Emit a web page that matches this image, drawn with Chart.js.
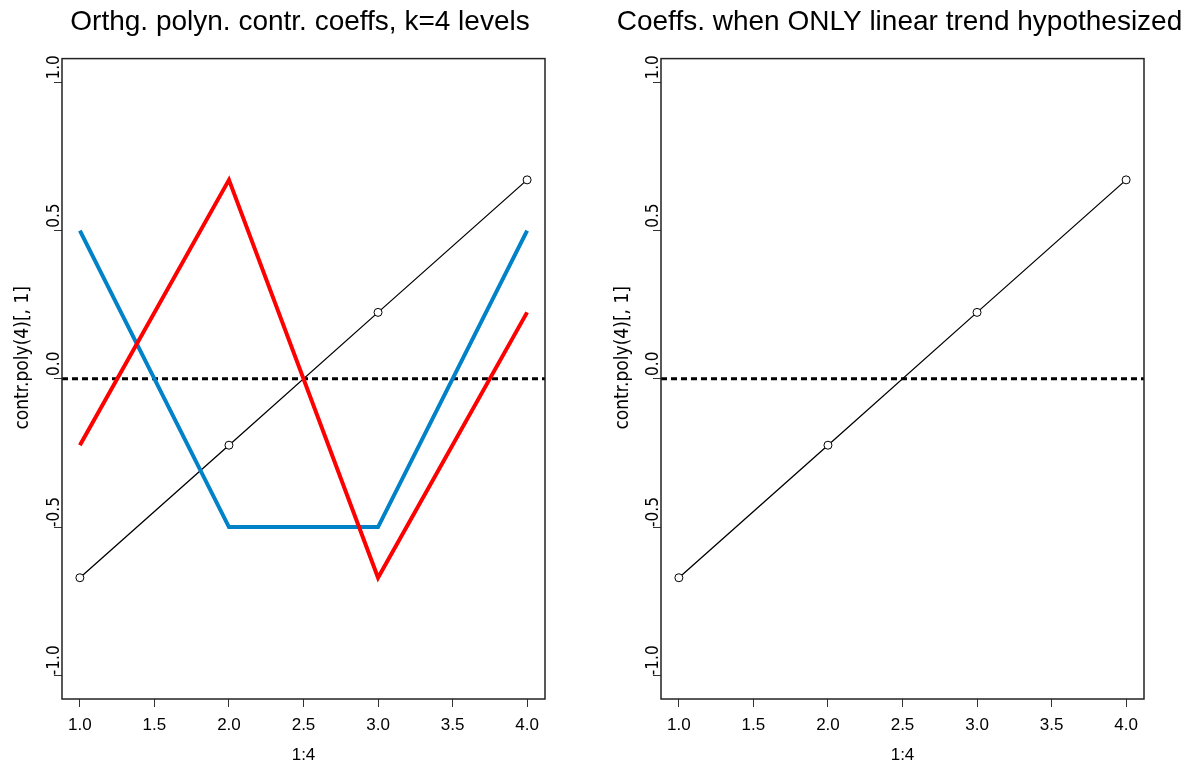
<!DOCTYPE html>
<html>
<head>
<meta charset="utf-8">
<script src="https://cdn.jsdelivr.net/npm/chart.js@4/dist/chart.umd.min.js"></script>
<style>
  html, body { margin: 0; padding: 0; background: #fff; }
  .row { display: flex; width: 1199px; height: 766px; }
</style>
</head>
<body>
<div class="row">
  <canvas id="left" width="600" height="766"></canvas>
  <canvas id="right" width="599" height="766"></canvas>
</div>
<script>
// contr.poly(4) columns
const levels = [1, 2, 3, 4];
const linear = [-0.671, -0.224, 0.224, 0.671];
const quadratic = [0.5, -0.5, -0.5, 0.5];
const cubic = [-0.224, 0.671, -0.671, 0.224];

const xTicks = [1.0, 1.5, 2.0, 2.5, 3.0, 3.5, 4.0];
const yTicks = [-1.0, -0.5, 0.0, 0.5, 1.0];
const xLimits = [0.88, 4.12];
const yLimits = [-1.08, 1.08];
const refLine = 0;

const SANS = "'Liberation Sans', Arial, sans-serif";
const NARROW = "'Liberation Sans Narrow', 'DejaVu Sans Condensed', 'Liberation Sans', sans-serif";

const pts = (ys) => levels.map((x, i) => ({ x: x, y: ys[i] }));

// box around the plot region, like R's box()
const framePlugin = {
  id: 'frame',
  afterDatasetsDraw(chart) {
    const { ctx, chartArea: a } = chart;
    ctx.save();
    ctx.strokeStyle = '#222';
    ctx.lineWidth = 1.5;
    ctx.strokeRect(a.left, a.top, a.right - a.left, a.bottom - a.top);
    ctx.restore();
  }
};

// rotated y label (sits a bit above the plot centre in the original)
const yLabelPlugin = {
  id: 'yLabel',
  afterDraw(chart, args, opts) {
    const { ctx, chartArea: a } = chart;
    ctx.save();
    ctx.translate(opts.x, (a.top + a.bottom) / 2 + opts.shift);
    ctx.rotate(-Math.PI / 2);
    ctx.font = opts.size + 'px ' + NARROW;
    ctx.fillStyle = '#000';
    ctx.textAlign = 'center';
    ctx.textBaseline = 'middle';
    ctx.fillText(opts.text, 0, 0);
    ctx.restore();
  }
};

function makeChart(id, title, datasets, yWidth) {
  return new Chart(document.getElementById(id), {
    type: 'line',
    data: { datasets: datasets },
    options: {
      responsive: false,
      animation: false,
      devicePixelRatio: 1,
      layout: { padding: 0 },
      scales: {
        x: {
          type: 'linear',
          min: xLimits[0],
          max: xLimits[1],
          afterBuildTicks: (s) => { s.ticks = xTicks.map(v => ({ value: v })); },
          afterFit: (s) => { s.height = 67; },
          grid: { drawOnChartArea: false, tickLength: 8, color: '#333', lineWidth: 1 },
          border: { display: false },
          ticks: {
            autoSkip: false,
            maxRotation: 0,
            padding: 8,
            color: '#000',
            font: { family: SANS, size: 17 },
            callback: (v) => Number(v).toFixed(1)
          },
          title: {
            display: true,
            text: '1:4',
            color: '#000',
            font: { family: SANS, size: 17 },
            padding: { top: 0, bottom: 0 }
          }
        },
        y: {
          type: 'linear',
          min: yLimits[0],
          max: yLimits[1],
          afterBuildTicks: (s) => { s.ticks = yTicks.map(v => ({ value: v })); },
          afterFit: (s) => { s.width = yWidth; },
          grid: { drawOnChartArea: false, tickLength: 8, color: '#333', lineWidth: 1 },
          border: { display: false },
          ticks: {
            autoSkip: false,
            minRotation: 90,
            maxRotation: 90,
            crossAlign: 'center',
            padding: -15,
            labelOffset: -15,
            color: '#000',
            font: { family: NARROW, size: 17 },
            callback: (v) => Number(v).toFixed(1)
          }
        },
        // empty right-hand margin
        y2: {
          type: 'linear',
          position: 'right',
          afterFit: (s) => { s.width = 55; },
          grid: { display: false },
          border: { display: false },
          ticks: { display: false }
        }
      },
      plugins: {
        legend: { display: false },
        tooltip: { enabled: false },
        title: {
          display: true,
          text: title,
          color: '#000',
          font: { family: SANS, size: 28, weight: 'normal' },
          padding: { top: 5, bottom: 20 }
        },
        yLabel: { text: 'contr.poly(4)[, 1]', x: 23, shift: -21, size: 19 }
      }
    },
    plugins: [framePlugin, yLabelPlugin]
  });
}

const zeroLine = () => ({
  data: [{ x: xLimits[0], y: refLine }, { x: xLimits[1], y: refLine }],
  borderColor: '#000',
  borderWidth: 3,
  borderDash: [6, 4],
  pointRadius: 0,
  tension: 0
});

const linearLine = () => ({
  data: pts(linear),
  borderColor: '#000',
  borderWidth: 1.3,
  pointRadius: 4,
  pointBorderWidth: 1,
  pointBorderColor: '#000',
  pointBackgroundColor: '#fff',
  tension: 0
});

// first dataset is drawn on top
makeChart('left', 'Orthg. polyn. contr. coeffs, k=4 levels', [
  { data: pts(cubic), borderColor: '#FF0000', borderWidth: 4, pointRadius: 0, tension: 0 },
  { data: pts(quadratic), borderColor: '#0082C8', borderWidth: 4, pointRadius: 0, tension: 0 },
  zeroLine(),
  linearLine()
], 62);

makeChart('right', 'Coeffs. when ONLY linear trend hypothesized', [
  zeroLine(),
  linearLine()
], 61);
</script>
</body>
</html>
